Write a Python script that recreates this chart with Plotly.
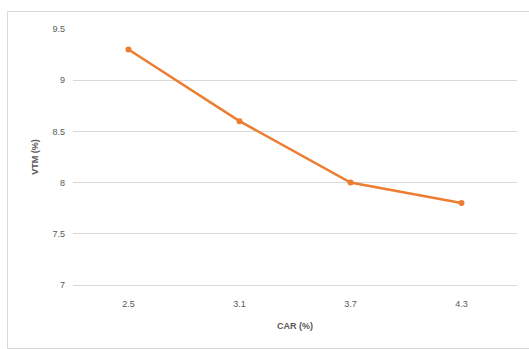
import plotly.graph_objects as go

categories = ["2.5", "3.1", "3.7", "4.3"]
vtm = [9.3, 8.6, 8.0, 7.8]
y_ticks = [7, 7.5, 8, 8.5, 9, 9.5]
y_tick_labels = ["7", "7.5", "8", "8.5", "9", "9.5"]

W, H = 529, 349
L, R, T, B = 73, 12, 29, 64
pw, ph = W - L - R, H - T - B

def px(x):
    return (x - L) / pw

def py(y):
    return (H - B - y) / ph

fig = go.Figure()
fig.add_trace(go.Scatter(
    x=categories, y=vtm, mode="lines+markers",
    line=dict(color="#ED7D31", width=2.5),
    marker=dict(color="#ED7D31", size=6),
    showlegend=False, cliponaxis=False,
))

font_family = "Liberation Sans, Arial, sans-serif"
fig.update_layout(
    width=W, height=H,
    margin=dict(l=L, r=R, t=T, b=B, autoexpand=False),
    paper_bgcolor="white", plot_bgcolor="white",
    font=dict(family=font_family, size=9, color="#595959"),
    xaxis=dict(
        type="category", range=[-0.5, 3.5],
        showgrid=False, showline=True, linecolor="#d9d9d9", linewidth=1,
        ticks="", tickfont=dict(size=9, color="#595959"), ticklabelstandoff=10,
        title=dict(text="<b>CAR (%)</b>", font=dict(size=9, color="#595959"), standoff=14),
        zeroline=False,
    ),
    yaxis=dict(
        range=[7, 9.5], tickvals=y_ticks, ticktext=y_tick_labels,
        showgrid=True, gridcolor="#d9d9d9", gridwidth=1,
        showline=False, ticks="", zeroline=False,
        tickfont=dict(size=9, color="#595959"), ticklabelstandoff=7,
        title=dict(text="<b>VTM (%)</b>", font=dict(size=9, color="#595959"), standoff=12),
    ),
    shapes=[
        dict(type="rect", xref="paper", yref="paper",
             x0=px(7.5), x1=px(540), y0=py(11.5), y1=py(348.5),
             line=dict(color="#d9d9d9", width=1), fillcolor="rgba(0,0,0,0)",
             layer="below"),
    ],
)

fig.write_html("out.html")
